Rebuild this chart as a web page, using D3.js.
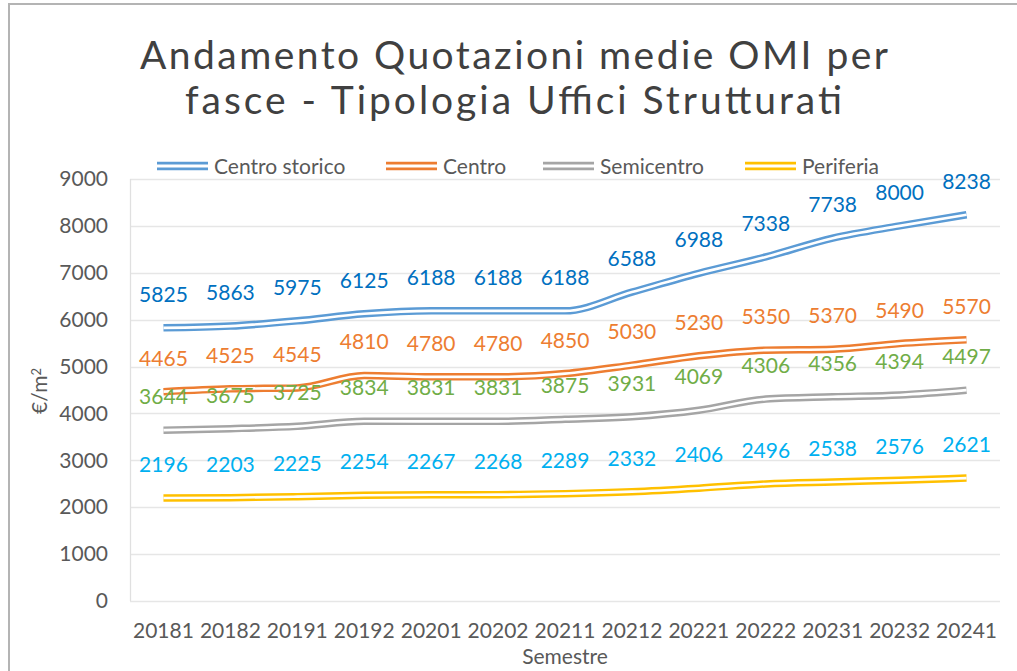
<!DOCTYPE html>
<html>
<head>
<meta charset="utf-8">
<script src="https://cdn.jsdelivr.net/npm/d3@7"></script>
<style>
  body { margin: 0; background: #fff; }
  svg { display: block; font-family: Lato, "Open Sans", sans-serif; }
</style>
</head>
<body>
<svg width="1017" height="671"></svg>
<script>
// semesters (x axis)
var categories = ["20181", "20182", "20191", "20192", "20201", "20202", "20211",
                  "20212", "20221", "20222", "20231", "20232", "20241"];

// series values, euro per m2
var centroStorico = [5825, 5863, 5975, 6125, 6188, 6188, 6188, 6588, 6988, 7338, 7738, 8000, 8238];
var centro        = [4465, 4525, 4545, 4810, 4780, 4780, 4850, 5030, 5230, 5350, 5370, 5490, 5570];
var semicentro    = [3644, 3675, 3725, 3834, 3831, 3831, 3875, 3931, 4069, 4306, 4356, 4394, 4497];
var periferia     = [2196, 2203, 2225, 2254, 2267, 2268, 2289, 2332, 2406, 2496, 2538, 2576, 2621];

var seriesNames = ["Centro storico", "Centro", "Semicentro", "Periferia"];
var yTicks = [0, 1000, 2000, 3000, 4000, 5000, 6000, 7000, 8000, 9000];

var lineColors  = ["#5B9BD5", "#ED7D31", "#A5A5A5", "#FFC000"];
var labelColors = ["#0070C0", "#ED7D31", "#70AD47", "#00B0F0"];

var series = [centroStorico, centro, semicentro, periferia].map(function (vals, i) {
    return {
        name: seriesNames[i],
        line: lineColors[i],
        label: labelColors[i],
        values: vals.map(function (v, j) { return { cat: categories[j], value: v }; })
    };
});

var svg = d3.select("svg"),
    margin = { top: 179, right: 17, bottom: 70, left: 130 },
    width = +svg.attr("width") - margin.left - margin.right,
    height = +svg.attr("height") - margin.top - margin.bottom;

// outer chart frame
svg.append("path")
    .attr("d", "M9,700 V4 H1030")
    .attr("fill", "none")
    .attr("stroke", "#B4B4B4")
    .attr("stroke-width", 2);

var g = svg.append("g").attr("transform", "translate(" + margin.left + "," + margin.top + ")");

var x = d3.scaleBand()
    .domain(categories)
    .range([0, width]);

var y = d3.scaleLinear()
    .domain([0, 9000])
    .range([height, 0]);

// gridlines
g.append("g")
    .selectAll("line")
    .data(yTicks)
    .enter().append("line")
    .attr("x1", 0)
    .attr("x2", width)
    .attr("y1", d => Math.round(y(d)) + 0.5)
    .attr("y2", d => Math.round(y(d)) + 0.5)
    .attr("stroke", "#E6E6E6")
    .attr("stroke-width", 1.3);

// left axis line
g.append("line")
    .attr("x1", 0.5).attr("x2", 0.5)
    .attr("y1", 0).attr("y2", height)
    .attr("stroke", "#E0E0E0")
    .attr("stroke-width", 1.3);

// y axis
var yAxis = g.append("g")
    .call(d3.axisLeft(y).tickValues(yTicks).tickFormat(d3.format("d")).tickSize(0).tickPadding(22));
yAxis.select(".domain").remove();
yAxis.selectAll("text")
    .attr("fill", "#595959")
    .style("font-size", "21px")
    .style("font-family", "Lato, sans-serif");

// x axis
var xAxis = g.append("g")
    .attr("transform", "translate(0," + height + ")")
    .call(d3.axisBottom(x).tickSize(0).tickPadding(22));
xAxis.select(".domain").remove();
xAxis.selectAll("text")
    .attr("fill", "#595959")
    .style("font-size", "21px")
    .style("font-family", "Lato, sans-serif");

// axis titles
svg.append("text")
    .attr("x", margin.left + width / 2)
    .attr("y", 664)
    .attr("text-anchor", "middle")
    .attr("fill", "#595959")
    .style("font-size", "21px")
    .text("Semestre");

var yTitle = svg.append("text")
    .attr("transform", "translate(47,391) rotate(-90)")
    .attr("text-anchor", "middle")
    .attr("fill", "#595959")
    .style("font-size", "21px");
yTitle.append("tspan").text("€/m");
yTitle.append("tspan").attr("dy", "-0.45em").style("font-size", "13px").text("2");

// lines, drawn as a double stroke
var line = d3.line()
    .x(d => x(d.cat) + x.bandwidth() / 2)
    .y(d => y(d.value))
    .curve(d3.curveMonotoneX);

var lines = g.append("g").selectAll("g")
    .data(series)
    .enter().append("g");

lines.append("path")
    .attr("d", d => line(d.values))
    .attr("fill", "none")
    .attr("stroke", d => d.line)
    .attr("stroke-width", 7.5)
    .attr("stroke-linejoin", "round");

lines.append("path")
    .attr("d", d => line(d.values))
    .attr("fill", "none")
    .attr("stroke", "#fff")
    .attr("stroke-width", 2.6)
    .attr("stroke-linejoin", "round");

// data labels
series.forEach(function (s) {
    g.append("g")
        .selectAll("text")
        .data(s.values)
        .enter().append("text")
        .attr("x", d => x(d.cat) + x.bandwidth() / 2)
        .attr("y", d => y(d.value) - 26)
        .attr("text-anchor", "middle")
        .attr("fill", s.label)
        .style("font-size", "21px")
        .text(d => d.value);
});

// title
var title = svg.append("g")
    .attr("fill", "#404040")
    .style("font-size", "39px")
    .style("font-weight", 400);
title.append("text")
    .attr("x", 140).attr("y", 69)
    .attr("textLength", 748)
    .attr("lengthAdjust", "spacing")
    .text("Andamento Quotazioni medie OMI per");
title.append("text")
    .attr("x", 185).attr("y", 114)
    .attr("textLength", 657)
    .attr("lengthAdjust", "spacing")
    .text("fasce - Tipologia Uffici Strutturati");

// legend (item offsets as laid out in the original)
var legendX = [0, 229, 386, 588];
var legend = svg.append("g").attr("transform", "translate(157,166)");
series.forEach(function (s, i) {
    var item = legend.append("g").attr("transform", "translate(" + legendX[i] + ",0)");
    item.append("line")
        .attr("x1", 0).attr("x2", 51)
        .attr("stroke", s.line).attr("stroke-width", 8.5);
    item.append("line")
        .attr("x1", 0).attr("x2", 51)
        .attr("stroke", "#fff").attr("stroke-width", 3.2);
    item.append("text")
        .attr("x", 57).attr("y", 7.5)
        .attr("fill", "#595959")
        .style("font-size", "21px")
        .text(s.name);
});
</script>
</body>
</html>
